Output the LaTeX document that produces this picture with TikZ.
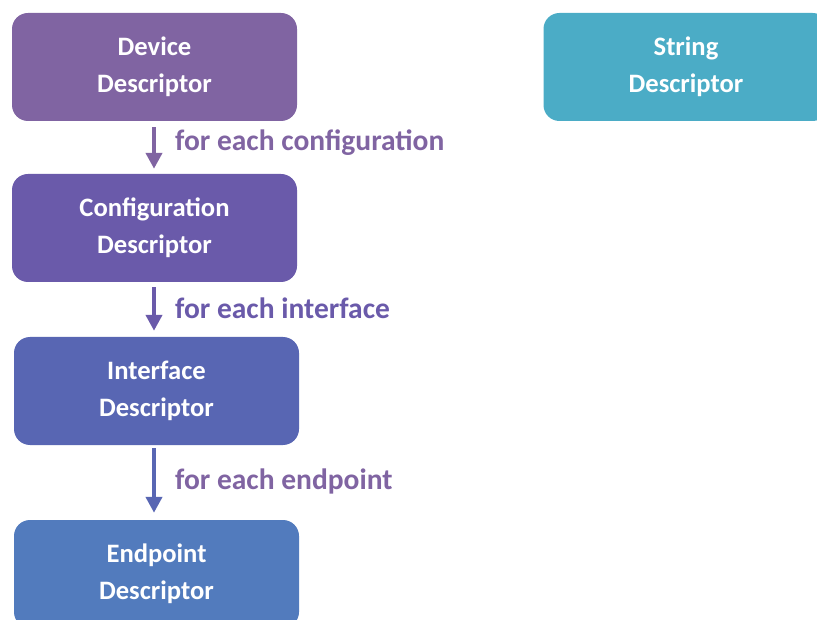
\documentclass[tikz,border=0pt]{standalone}
\usepackage{fontspec}
\setmainfont{Carlito}
\usetikzlibrary{arrows.meta}
\definecolor{cdev}{HTML}{8064A2}
\definecolor{ccfg}{HTML}{6A5AAA}
\definecolor{cifc}{HTML}{5866B3}
\definecolor{cend}{HTML}{527BBD}
\definecolor{cstr}{HTML}{4BACC6}
\tikzset{
  descbox/.style={rounded corners=16pt, minimum width=285pt, minimum height=108pt,
    text=white, align=center, font=\fontsize{26.6}{37}\selectfont\bfseries, inner sep=0pt},
  flow/.style={line width=4.5pt, -{Triangle[width=16pt,length=16pt]}},
  lbl/.style={anchor=west, font=\fontsize{29.5}{32}\selectfont\bfseries, inner sep=0pt}
}
\begin{document}
\begin{tikzpicture}[x=1pt,y=-1pt]
\useasboundingbox (0,0) rectangle (817,620);
\clip (0,0) rectangle (817,620);
\node[descbox, fill=cdev] (dev) at (154.5,67) {Device\\Descriptor};
\node[descbox, fill=cstr] (str) at (686,67) {String\\Descriptor};
\node[descbox, fill=ccfg] (cfg) at (154.5,228) {Configuration\\Descriptor};
\node[descbox, fill=cifc] (ifc) at (156.5,391) {Interface\\Descriptor};
\node[descbox, fill=cend] (end) at (156.5,574) {Endpoint\\Descriptor};
\draw[flow, draw=cdev, shorten <=6pt, shorten >=5pt] (dev.south -| 154,0) -- (cfg.north -| 154,0);
\draw[flow, draw=ccfg, shorten <=5pt, shorten >=6pt] (cfg.south -| 154,0) -- (ifc.north -| 154,0);
\draw[flow, draw=cifc, shorten <=3pt, shorten >=7pt] (ifc.south -| 154,0) -- (end.north -| 154,0);
\node[lbl, text=cdev] (l1) at (175,143) {for each configuration};
\node[lbl, text=ccfg] (l2) at (175,308) {for each interface};
\node[lbl, text=cdev] (l3) at (175,481) {for each endpoint};
\end{tikzpicture}
\end{document}
